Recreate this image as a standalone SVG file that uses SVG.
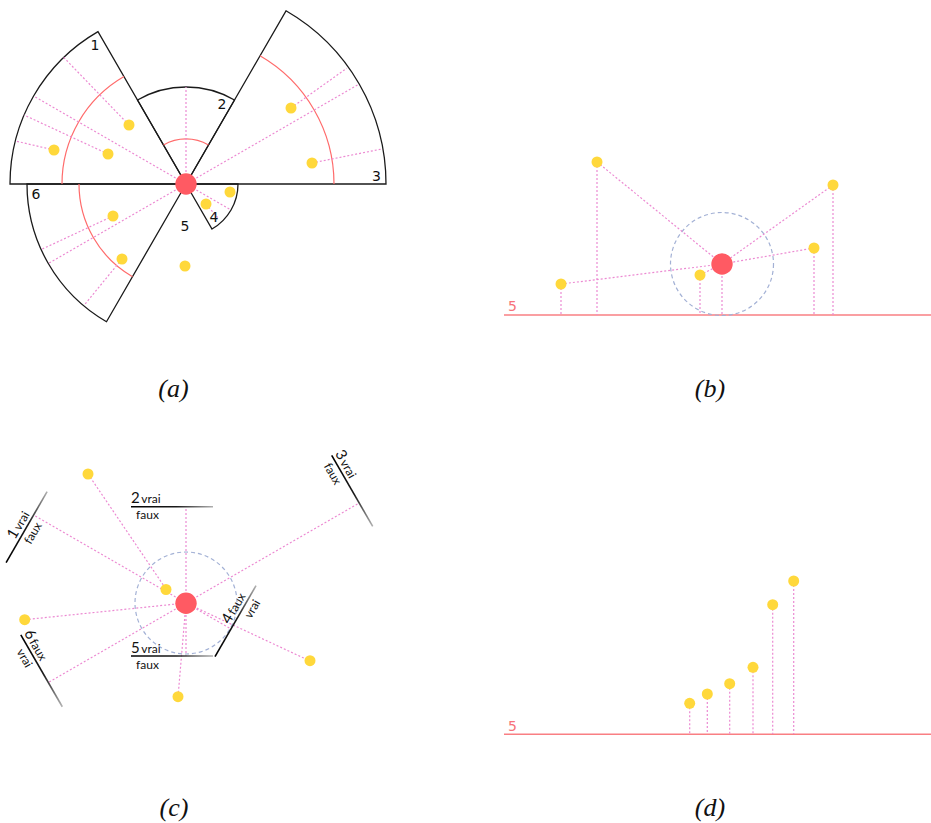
<svg xmlns="http://www.w3.org/2000/svg" width="931" height="823" viewBox="0 0 931 823">
<defs>
<style>
.sec{fill:none;stroke:#1a1a1a;stroke-width:1.3}
.arc{fill:none;stroke:#ff6b6b;stroke-width:1.2}
.pk{fill:none;stroke:#ec8ad2;stroke-width:1.2;stroke-dasharray:2 2}
.dot{fill:#ffd83b}
.ctr{fill:#ff5a63}
.ring{fill:none;stroke:#a3b1d5;stroke-width:1.2;stroke-dasharray:4 3}
.base{stroke:#f97f83;stroke-width:1.5}
.lab{font-family:"DejaVu Sans",sans-serif;font-size:14px;fill:#111}
.c5{font-family:"DejaVu Sans",sans-serif;font-size:14px;fill:#f7737a}
.cap{font-family:"Liberation Serif",serif;font-style:italic;font-size:26px;fill:#111}
.dg{font-family:Lato,"DejaVu Sans",sans-serif;font-size:15px;fill:#111}
.wd{font-size:12px}
.tl{stroke-width:1.6;fill:none}
</style>
<linearGradient id="lg" gradientUnits="userSpaceOnUse" x1="-55" y1="0" x2="27" y2="0">
<stop offset="0" stop-color="#000"/><stop offset="0.55" stop-color="#1a1a1a"/><stop offset="1" stop-color="#b0b0b0"/>
</linearGradient>
<linearGradient id="lg4" gradientUnits="userSpaceOnUse" x1="-32" y1="0" x2="50" y2="0">
<stop offset="0" stop-color="#000"/><stop offset="0.55" stop-color="#1a1a1a"/><stop offset="1" stop-color="#b0b0b0"/>
</linearGradient>
</defs>
<rect width="931" height="823" fill="#fff"/>

<!-- Panel a -->
<g id="panel-a">
<g id="a-sectors">
<path id="sector1" class="sec" d="M186,184 L98,31.6 A176,176 0 0 0 10,184 Z"/>
<path id="sector2" class="sec" d="M186,184 L234.5,100 A97,97 0 0 0 137.5,100 Z"/>
<path id="sector3" class="sec" d="M186,184 L386,184 A200,200 0 0 0 286,10.8 Z"/>
<path id="sector4" class="sec" d="M186,184 L212,229 A52,52 0 0 0 238,184 Z"/>
<path id="sector6" class="sec" d="M186,184 L27,184 A159,159 0 0 0 106.5,321.7 Z"/>
</g>
<g id="a-arcs">
<path class="arc" d="M124,76.6 A124,124 0 0 0 62,184"/>
<path class="arc" d="M208.5,145 A45,45 0 0 0 163.5,145"/>
<path class="arc" d="M334,184 A148,148 0 0 0 260,55.8"/>
<path class="arc" d="M79,184 A107,107 0 0 0 132.5,276.7"/>
</g>
<g id="a-connectors" class="pk">
<path d="M186,184 L33.6,96"/>
<path d="M186,184 L186,87"/>
<path d="M186,184 L359.2,84"/>
<path d="M186,184 L231,210"/>
<path d="M186,184 L48.3,263.5"/>
<path d="M129,125 L63.7,57.4"/>
<path d="M108,154 L24,115"/>
<path d="M54,150 L16.7,141.3"/>
<path d="M291,108 L346.7,68.3"/>
<path d="M312,163 L381.7,149"/>
<path d="M113,216 L41.7,249.3"/>
<path d="M122,259 L84.3,305"/>
<path d="M206,204 L219,219"/>
</g>
<g id="a-points">
<circle class="dot" cx="129" cy="125" r="5.5"/>
<circle class="dot" cx="54" cy="150" r="5.5"/>
<circle class="dot" cx="108" cy="154" r="5.5"/>
<circle class="dot" cx="113" cy="216" r="5.5"/>
<circle class="dot" cx="122" cy="259" r="5.5"/>
<circle class="dot" cx="185" cy="266" r="5.5"/>
<circle class="dot" cx="230" cy="192" r="5.5"/>
<circle class="dot" cx="206" cy="204" r="5.5"/>
<circle class="dot" cx="291" cy="108" r="5.5"/>
<circle class="dot" cx="312" cy="163" r="5.5"/>
</g>
<g id="a-center"><circle class="ctr" cx="186" cy="184" r="10.7"/></g>
<g id="a-labels" class="lab" text-anchor="middle">
<text x="95" y="50">1</text>
<text x="222" y="109">2</text>
<text x="376.5" y="181">3</text>
<text x="214" y="222">4</text>
<text x="185" y="230.5">5</text>
<text x="36" y="198.5">6</text>
</g>
<text class="cap" x="173.5" y="397" text-anchor="middle">(a)</text>
</g>

<!-- Panel b -->
<g id="panel-b">
<line id="b-axis" class="base" x1="504" y1="315" x2="931" y2="315"/>
<text class="c5" x="508" y="311">5</text>
<circle id="b-ring" class="ring" cx="722" cy="264" r="51.5"/>
<g id="b-connectors" class="pk">
<path d="M597,162 L722,264"/>
<path d="M833,185 L722,264"/>
<path d="M814,248 L722,264"/>
<path d="M561,284 L722,264"/>
<path d="M700,275 L722,264"/>
<path d="M597,162 V315"/>
<path d="M833,185 V315"/>
<path d="M814,248 V315"/>
<path d="M561,284 V315"/>
<path d="M700,275 V315"/>
<path d="M722,264 V315"/>
</g>
<g id="b-points">
<circle class="dot" cx="597" cy="162" r="5.5"/>
<circle class="dot" cx="833" cy="185" r="5.5"/>
<circle class="dot" cx="814" cy="248" r="5.5"/>
<circle class="dot" cx="561" cy="284" r="5.5"/>
<circle class="dot" cx="700" cy="275" r="5.5"/>
</g>
<g id="b-center"><circle class="ctr" cx="722" cy="264" r="10.7"/></g>
<text class="cap" x="710" y="397" text-anchor="middle">(b)</text>
</g>

<!-- Panel c -->
<g id="panel-c">
<circle id="c-ring" class="ring" cx="186" cy="603" r="51"/>
<g id="c-connectors" class="pk">
<path d="M88,474 L166,589"/>
<path d="M186,603 L24.7,619.7"/>
<path d="M186,603 L33.6,515"/>
<path d="M186,603 L186,507"/>
<path d="M186,603 L359.2,503"/>
<path d="M186,603 L231,629"/>
<path d="M186,603 L310,661"/>
<path d="M186,603 L186,656"/>
<path d="M186,603 L178,697"/>
<path d="M186,603 L48.3,682.5"/>
</g>
<g id="c-label1" transform="translate(33.6,515) rotate(-60)">
<line class="tl" x1="-55" y1="0" x2="27" y2="0" stroke="url(#lg)"/>
<text class="dg" x="-31" y="-3.5">1<tspan class="wd" dx="1.5">vrai</tspan></text>
<text class="dg wd" x="-16" y="12.5" text-anchor="middle">faux</text>
</g>
<g id="c-label2" transform="translate(186,506.7)">
<line class="tl" x1="-55" y1="0" x2="27" y2="0" stroke="url(#lg)"/>
<text class="dg" x="-55" y="-3.5">2<tspan class="wd" dx="1.5">vrai</tspan></text>
<text class="dg wd" x="-38.5" y="12.5" text-anchor="middle">faux</text>
</g>
<g id="c-label3" transform="translate(359.2,503) rotate(60)">
<line class="tl" x1="-55" y1="0" x2="27" y2="0" stroke="url(#lg)"/>
<text class="dg" x="-55" y="-3.5">3<tspan class="wd" dx="1.5">vrai</tspan></text>
<text class="dg wd" x="-38.5" y="12.5" text-anchor="middle">faux</text>
</g>
<g id="c-label4" transform="translate(231,629) rotate(-60)">
<line class="tl" x1="-32" y1="0" x2="50" y2="0" stroke="url(#lg4)"/>
<text class="dg" x="3" y="-3.5">4<tspan class="wd" dx="1.5">faux</tspan></text>
<text class="dg wd" x="28" y="12.5" text-anchor="middle">vrai</text>
</g>
<g id="c-label5" transform="translate(186,656)">
<line class="tl" x1="-55" y1="0" x2="27" y2="0" stroke="url(#lg)"/>
<text class="dg" x="-55" y="-3.5">5<tspan class="wd" dx="1.5">vrai</tspan></text>
<text class="dg wd" x="-38.5" y="12.5" text-anchor="middle">faux</text>
</g>
<g id="c-label6" transform="translate(48.3,682.5) rotate(60)">
<line class="tl" x1="-55" y1="0" x2="28" y2="0" stroke="url(#lg)"/>
<text class="dg" x="-55" y="-3.5">6<tspan class="wd" dx="1.5">faux</tspan></text>
<text class="dg wd" x="-33" y="12.5" text-anchor="middle">vrai</text>
</g>
<g id="c-points">
<circle class="dot" cx="88" cy="474" r="5.5"/>
<circle class="dot" cx="166" cy="589.5" r="5.5"/>
<circle class="dot" cx="24.7" cy="619.7" r="5.5"/>
<circle class="dot" cx="178" cy="696.7" r="5.5"/>
<circle class="dot" cx="310" cy="660.7" r="5.5"/>
</g>
<g id="c-center"><circle class="ctr" cx="186" cy="603.3" r="10.7"/></g>
<text class="cap" x="174" y="816" text-anchor="middle">(c)</text>
</g>

<!-- Panel d -->
<g id="panel-d">
<line id="d-axis" class="base" x1="504" y1="734.3" x2="931" y2="734.3"/>
<text class="c5" x="508" y="730.5">5</text>
<g id="d-connectors" class="pk">
<path d="M689.7,703.3 V734"/>
<path d="M707.3,694 V734"/>
<path d="M729.7,683.7 V734"/>
<path d="M753,667.3 V734"/>
<path d="M772.7,604.7 V734"/>
<path d="M793.7,581 V734"/>
</g>
<g id="d-points">
<circle class="dot" cx="689.7" cy="703.3" r="5.5"/>
<circle class="dot" cx="707.3" cy="694" r="5.5"/>
<circle class="dot" cx="729.7" cy="683.7" r="5.5"/>
<circle class="dot" cx="753" cy="667.3" r="5.5"/>
<circle class="dot" cx="772.7" cy="604.7" r="5.5"/>
<circle class="dot" cx="793.7" cy="581" r="5.5"/>
</g>
<text class="cap" x="710" y="816" text-anchor="middle">(d)</text>
</g>
</svg>
